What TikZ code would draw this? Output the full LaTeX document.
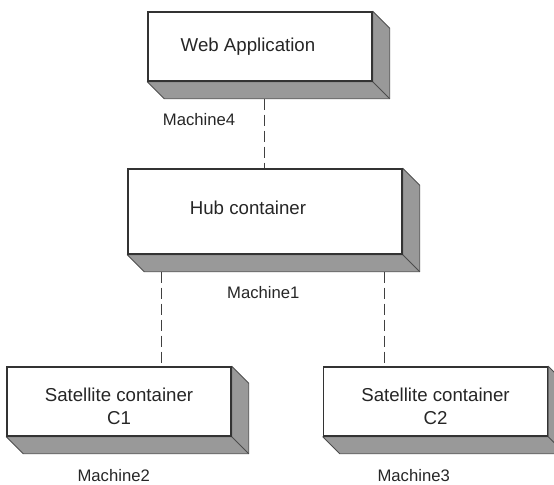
\documentclass[tikz,border=0pt]{standalone}
\usepackage{fontspec}
\setmainfont{Liberation Sans}
\usetikzlibrary{calc,backgrounds}
\definecolor{sidegray}{HTML}{999999}
\definecolor{inkgray}{HTML}{333333}
\tikzset{
  machine/.style={draw=inkgray, line width=1.1pt, fill=white, inner sep=0pt, minimum width=168pt, minimum height=51.75pt},
  side/.style={fill=sidegray, draw=black!70, line width=0.6pt, line join=round},
  boxtext/.style={inner sep=0pt, text=black!85, font=\fontsize{14}{17.25}\selectfont, align=center},
  hostlabel/.style={inner sep=0pt, text=black!85, font=\fontsize{12.5}{15}\selectfont},
  link/.style={draw=black!75, line width=0.75pt, dash pattern=on 8.25pt off 3.75pt}
}
\begin{document}
\begin{tikzpicture}[x=0.75pt,y=-0.75pt]
  \useasboundingbox (0,0) rectangle (554,485);
  
  % machines, front faces
  \node[machine] (web) at (260,46.5) {};
  \node[machine, minimum width=205.5pt, minimum height=63.75pt] (hub) at (265,211.5) {};
  \node[machine] (sat1) at (119,401.5) {};
  \node[machine] (sat2) at (435.5,401.5) {};
  
  % 3d sides
  \begin{scope}[on background layer]
    \foreach \n in {web,hub,sat1,sat2}{
      \draw[side] (\n.south west) -- ++(17,17) -- ($(\n.south east)+(17,17)$) -- ($(\n.north east)+(17,17)$) -- (\n.north east) -- (\n.south east) -- cycle;
      \draw[side] (\n.south east) -- ++(17,17);
    }
  \end{scope}
  
  % texts in the boxes
  \node[boxtext] (webtext) at ($(web)+(-12,0)$) {Web Application};
  \node[boxtext] (hubtext) at ($(hub)+(-17,-4)$) {Hub container};
  \node[boxtext] (sat1text) at ($(sat1)+(0,4.5)$) {Satellite container\\C1};
  \node[boxtext] (sat2text) at ($(sat2)+(0,4.5)$) {Satellite container\\C2};
  
  % host names
  \node[hostlabel] (m4) at (199,120) {Machine4};
  \node[hostlabel] (m1) at (263.3,292.3) {Machine1};
  \node[hostlabel] (m2) at (113.7,475.5) {Machine2};
  \node[hostlabel] (m3) at (413.7,475.5) {Machine3};
  
  % dashed links
  \coordinate (webfoot) at ($(web.south)+(4,17)$);
  \coordinate (hubfoot1) at ($(hub.south west)+(34,17)$);
  \coordinate (hubfoot2) at ($(hub.south east)+(-18,17)$);
  \draw[link] (webfoot) -- (webfoot |- hub.north);
  \draw[link] (hubfoot1) -- (hubfoot1 |- sat1.north);
  \draw[link] (hubfoot2) -- (hubfoot2 |- sat2.north);
\end{tikzpicture}
\end{document}
